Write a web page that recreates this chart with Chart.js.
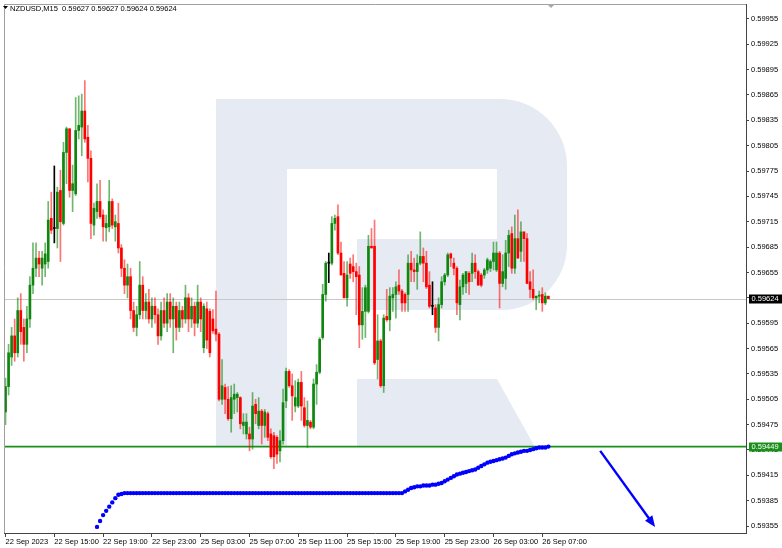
<!DOCTYPE html>
<html>
<head>
<meta charset="utf-8">
<script src="https://cdn.jsdelivr.net/npm/chart.js@4.4.0/dist/chart.umd.min.js"></script>
<style>
  html, body { margin: 0; padding: 0; background: #fff; }
  canvas { display: block; }
</style>
</head>
<body>
<canvas id="chart" width="782" height="548"></canvas>
<script>
const symbolTitle = "NZDUSD,M15  0.59627 0.59627 0.59624 0.59624";

// bar index of each time label (M15 bars, 0 = 22 Sep 11:00)
const xTickIdx = [0, 16, 32, 48, 64, 80, 96, 112, 128, 144, 160, 176];
const xTickLabels = ["22 Sep 2023", "22 Sep 15:00", "22 Sep 19:00", "22 Sep 23:00", "25 Sep 03:00", "25 Sep 07:00",
  "25 Sep 11:00", "25 Sep 15:00", "25 Sep 19:00", "25 Sep 23:00", "26 Sep 03:00", "26 Sep 07:00"];
const yTickValues = [0.59955, 0.59925, 0.59895, 0.59865, 0.59835, 0.59805, 0.59775, 0.59745, 0.59715, 0.59685,
  0.59655, 0.59625, 0.59595, 0.59565, 0.59535, 0.59505, 0.59475, 0.59445, 0.59415, 0.59385, 0.59355];

const opens = [
  0.59490, 0.59520, 0.59555, 0.59580, 0.59560, 0.59610, 0.59590, 0.59570, 0.59600, 0.59640,
  0.59660, 0.59672, 0.59660, 0.59665, 0.59668, 0.59719, 0.59707, 0.59707, 0.59752, 0.59713,
  0.59797, 0.59825, 0.59752, 0.59748, 0.59823, 0.59827, 0.59846, 0.59815, 0.59790, 0.59711,
  0.59727, 0.59739, 0.59723, 0.59708, 0.59709, 0.59739, 0.59709, 0.59713, 0.59684, 0.59660,
  0.59640, 0.59650, 0.59610, 0.59590, 0.59605, 0.59640, 0.59610, 0.59620, 0.59600, 0.59615,
  0.59605, 0.59580, 0.59610, 0.59595, 0.59620, 0.59600, 0.59615, 0.59590, 0.59610, 0.59600,
  0.59625, 0.59600, 0.59615, 0.59595, 0.59620, 0.59566, 0.59612, 0.59609, 0.59600, 0.59588,
  0.59582, 0.59505, 0.59519, 0.59505, 0.59482, 0.59505, 0.59507, 0.59507, 0.59474, 0.59464,
  0.59464, 0.59458, 0.59499, 0.59474, 0.59491, 0.59474, 0.59488, 0.59464, 0.59462, 0.59460,
  0.59444, 0.59456, 0.59503, 0.59538, 0.59521, 0.59497, 0.59497, 0.59525, 0.59495, 0.59474,
  0.59478, 0.59472, 0.59523, 0.59537, 0.59578, 0.59629, 0.59666, 0.59666, 0.59713, 0.59721,
  0.59678, 0.59654, 0.59625, 0.59665, 0.59662, 0.59656, 0.59652, 0.59593, 0.59609, 0.59609,
  0.59686, 0.59686, 0.59552, 0.59574, 0.59521, 0.59603, 0.59599, 0.59625, 0.59629, 0.59640,
  0.59633, 0.59629, 0.59629, 0.59666, 0.59658, 0.59656, 0.59666, 0.59674, 0.59666, 0.59640,
  0.59615, 0.59613, 0.59590, 0.59617, 0.59644, 0.59652, 0.59677, 0.59666, 0.59660, 0.59617,
  0.59638, 0.59642, 0.59654, 0.59654, 0.59666, 0.59656, 0.59652, 0.59652, 0.59658, 0.59660,
  0.59668, 0.59658, 0.59678, 0.59642, 0.59648, 0.59678, 0.59701, 0.59660, 0.59695, 0.59680,
  0.59703, 0.59695, 0.59644, 0.59635, 0.59625, 0.59627, 0.59629, 0.59619, 0.59627
];
const highs = [
  0.59530, 0.59570, 0.59590, 0.59600, 0.59625, 0.59630, 0.59600, 0.59615, 0.59650, 0.59690,
  0.59690, 0.59680, 0.59680, 0.59690, 0.59739, 0.59750, 0.59781, 0.59756, 0.59776, 0.59809,
  0.59827, 0.59825, 0.59782, 0.59862, 0.59864, 0.59866, 0.59882, 0.59829, 0.59799, 0.59737,
  0.59760, 0.59764, 0.59729, 0.59723, 0.59764, 0.59742, 0.59723, 0.59737, 0.59688, 0.59670,
  0.59665, 0.59660, 0.59620, 0.59615, 0.59668, 0.59650, 0.59630, 0.59635, 0.59625, 0.59625,
  0.59612, 0.59620, 0.59625, 0.59630, 0.59630, 0.59625, 0.59620, 0.59620, 0.59615, 0.59640,
  0.59630, 0.59625, 0.59620, 0.59640, 0.59625, 0.59618, 0.59620, 0.59612, 0.59611, 0.59633,
  0.59584, 0.59552, 0.59523, 0.59520, 0.59521, 0.59523, 0.59513, 0.59508, 0.59488, 0.59488,
  0.59472, 0.59513, 0.59505, 0.59507, 0.59493, 0.59493, 0.59490, 0.59470, 0.59466, 0.59462,
  0.59468, 0.59517, 0.59542, 0.59540, 0.59535, 0.59527, 0.59529, 0.59538, 0.59507, 0.59503,
  0.59480, 0.59529, 0.59546, 0.59578, 0.59641, 0.59668, 0.59678, 0.59721, 0.59723, 0.59735,
  0.59691, 0.59668, 0.59668, 0.59672, 0.59676, 0.59666, 0.59662, 0.59637, 0.59640, 0.59699,
  0.59707, 0.59717, 0.59605, 0.59576, 0.59605, 0.59635, 0.59637, 0.59637, 0.59644, 0.59658,
  0.59635, 0.59631, 0.59676, 0.59680, 0.59672, 0.59676, 0.59703, 0.59684, 0.59680, 0.59656,
  0.59644, 0.59617, 0.59625, 0.59650, 0.59654, 0.59678, 0.59678, 0.59672, 0.59662, 0.59646,
  0.59654, 0.59656, 0.59656, 0.59678, 0.59676, 0.59658, 0.59654, 0.59660, 0.59672, 0.59670,
  0.59691, 0.59691, 0.59680, 0.59676, 0.59693, 0.59705, 0.59709, 0.59723, 0.59729, 0.59715,
  0.59703, 0.59701, 0.59656, 0.59658, 0.59627, 0.59633, 0.59637, 0.59631, 0.59627
];
const lows = [
  0.59475, 0.59510, 0.59545, 0.59550, 0.59555, 0.59570, 0.59550, 0.59560, 0.59590, 0.59630,
  0.59650, 0.59650, 0.59640, 0.59650, 0.59660, 0.59701, 0.59690, 0.59684, 0.59668, 0.59711,
  0.59760, 0.59744, 0.59727, 0.59746, 0.59813, 0.59793, 0.59809, 0.59762, 0.59695, 0.59699,
  0.59719, 0.59719, 0.59692, 0.59692, 0.59703, 0.59707, 0.59692, 0.59678, 0.59650, 0.59630,
  0.59625, 0.59600, 0.59585, 0.59580, 0.59600, 0.59600, 0.59600, 0.59595, 0.59590, 0.59595,
  0.59570, 0.59575, 0.59590, 0.59585, 0.59590, 0.59560, 0.59575, 0.59585, 0.59590, 0.59595,
  0.59585, 0.59590, 0.59580, 0.59590, 0.59585, 0.59560, 0.59565, 0.59555, 0.59583, 0.59574,
  0.59503, 0.59499, 0.59488, 0.59480, 0.59466, 0.59488, 0.59490, 0.59470, 0.59464, 0.59458,
  0.59444, 0.59446, 0.59476, 0.59470, 0.59452, 0.59460, 0.59456, 0.59435, 0.59423, 0.59429,
  0.59431, 0.59452, 0.59495, 0.59519, 0.59480, 0.59490, 0.59495, 0.59480, 0.59472, 0.59448,
  0.59470, 0.59470, 0.59499, 0.59535, 0.59576, 0.59621, 0.59643, 0.59664, 0.59705, 0.59676,
  0.59652, 0.59625, 0.59615, 0.59648, 0.59644, 0.59605, 0.59566, 0.59576, 0.59578, 0.59607,
  0.59684, 0.59546, 0.59529, 0.59519, 0.59513, 0.59597, 0.59586, 0.59609, 0.59601, 0.59629,
  0.59609, 0.59609, 0.59609, 0.59644, 0.59644, 0.59635, 0.59664, 0.59644, 0.59636, 0.59613,
  0.59605, 0.59584, 0.59574, 0.59613, 0.59640, 0.59650, 0.59662, 0.59652, 0.59605, 0.59599,
  0.59629, 0.59631, 0.59629, 0.59644, 0.59648, 0.59640, 0.59638, 0.59648, 0.59654, 0.59656,
  0.59658, 0.59656, 0.59613, 0.59638, 0.59635, 0.59662, 0.59654, 0.59654, 0.59672, 0.59668,
  0.59668, 0.59642, 0.59625, 0.59623, 0.59611, 0.59619, 0.59609, 0.59617, 0.59624
];
const closes = [
  0.59520, 0.59560, 0.59580, 0.59560, 0.59610, 0.59585, 0.59570, 0.59600, 0.59640, 0.59660,
  0.59672, 0.59665, 0.59672, 0.59677, 0.59717, 0.59705, 0.59707, 0.59750, 0.59715, 0.59797,
  0.59825, 0.59752, 0.59760, 0.59823, 0.59829, 0.59846, 0.59813, 0.59790, 0.59713, 0.59731,
  0.59739, 0.59721, 0.59709, 0.59713, 0.59739, 0.59711, 0.59715, 0.59684, 0.59660, 0.59640,
  0.59650, 0.59610, 0.59590, 0.59605, 0.59640, 0.59610, 0.59620, 0.59600, 0.59615, 0.59605,
  0.59580, 0.59610, 0.59595, 0.59620, 0.59600, 0.59615, 0.59590, 0.59610, 0.59600, 0.59625,
  0.59600, 0.59615, 0.59595, 0.59620, 0.59600, 0.59615, 0.59575, 0.59560, 0.59586, 0.59582,
  0.59505, 0.59521, 0.59505, 0.59482, 0.59507, 0.59511, 0.59511, 0.59476, 0.59478, 0.59478,
  0.59458, 0.59497, 0.59488, 0.59491, 0.59474, 0.59490, 0.59460, 0.59437, 0.59437, 0.59440,
  0.59456, 0.59501, 0.59538, 0.59521, 0.59509, 0.59507, 0.59525, 0.59497, 0.59474, 0.59480,
  0.59472, 0.59523, 0.59537, 0.59576, 0.59629, 0.59666, 0.59666, 0.59713, 0.59719, 0.59678,
  0.59652, 0.59625, 0.59652, 0.59654, 0.59656, 0.59650, 0.59593, 0.59609, 0.59637, 0.59686,
  0.59684, 0.59548, 0.59574, 0.59521, 0.59601, 0.59599, 0.59627, 0.59629, 0.59638, 0.59633,
  0.59619, 0.59619, 0.59666, 0.59658, 0.59656, 0.59666, 0.59674, 0.59666, 0.59638, 0.59615,
  0.59615, 0.59590, 0.59617, 0.59644, 0.59652, 0.59676, 0.59672, 0.59660, 0.59619, 0.59638,
  0.59652, 0.59656, 0.59644, 0.59666, 0.59656, 0.59640, 0.59640, 0.59658, 0.59670, 0.59668,
  0.59678, 0.59678, 0.59642, 0.59656, 0.59678, 0.59699, 0.59660, 0.59695, 0.59672, 0.59703,
  0.59695, 0.59642, 0.59635, 0.59625, 0.59627, 0.59628, 0.59619, 0.59627, 0.59624
];

// blue dotted indicator, first value at bar dotStart
const dotStart = 30;
const dotValues = [
  0.59354, 0.59361, 0.59368, 0.59373, 0.59378, 0.59383, 0.59388, 0.59392, 0.59393,
  0.59394, 0.59394, 0.59394, 0.59394, 0.59394, 0.59394, 0.59394, 0.59394, 0.59394, 0.59394,
  0.59394, 0.59394, 0.59394, 0.59394, 0.59394, 0.59394, 0.59394, 0.59394, 0.59394, 0.59394,
  0.59394, 0.59394, 0.59394, 0.59394, 0.59394, 0.59394, 0.59394, 0.59394, 0.59394, 0.59394,
  0.59394, 0.59394, 0.59394, 0.59394, 0.59394, 0.59394, 0.59394, 0.59394, 0.59394, 0.59394,
  0.59394, 0.59394, 0.59394, 0.59394, 0.59394, 0.59394, 0.59394, 0.59394, 0.59394, 0.59394,
  0.59394, 0.59394, 0.59394, 0.59394, 0.59394, 0.59394, 0.59394, 0.59394, 0.59394, 0.59394,
  0.59394, 0.59394, 0.59394, 0.59394, 0.59394, 0.59394, 0.59394, 0.59394, 0.59394, 0.59394,
  0.59394, 0.59394, 0.59394, 0.59394, 0.59394, 0.59394, 0.59394, 0.59394, 0.59394, 0.59394,
  0.59394, 0.59394, 0.59394, 0.59394, 0.59394, 0.59394, 0.59394, 0.59394, 0.59394, 0.59394,
  0.59394, 0.59394,
  0.59396, 0.59398, 0.59400, 0.59401, 0.59402, 0.59402, 0.59403, 0.59403, 0.59403, 0.59404,
  0.59404, 0.59405, 0.59406, 0.59408, 0.59410, 0.59412, 0.59414, 0.59416, 0.59417, 0.59418,
  0.59419, 0.59420, 0.59421, 0.59422, 0.59424, 0.59426, 0.59428, 0.59430, 0.59431, 0.59432,
  0.59433, 0.59434, 0.59435, 0.59436, 0.59438, 0.59440, 0.59441, 0.59442, 0.59443, 0.59444,
  0.59444, 0.59445, 0.59446, 0.59447, 0.59448, 0.59448, 0.59448, 0.59449
];

const bidPrice = 0.59624;
const levelPrice = 0.59449;
// forecast arrow: [bar index, price]
const arrowFrom = [195, 0.59444];
const arrowTo = [213, 0.59354];

const FONT = { family: "'Liberation Sans', Arial, sans-serif", size: 7.5 };
const BULL = "#0f870f", BEAR = "#ff0000", DOJI = "#000000";
const BULL_WICK = "rgba(15,135,15,0.6)", BEAR_WICK = "rgba(255,0,0,0.55)";

const idx = opens.map((_, i) => i);
const colorOf = i => closes[i] > opens[i] ? BULL : (closes[i] < opens[i] ? BEAR : DOJI);
const wickColorOf = i => closes[i] > opens[i] ? BULL_WICK : (closes[i] < opens[i] ? BEAR_WICK : DOJI);

const mtPlugin = {
  id: "mt",
  beforeDatasetsDraw(chart) {
    const ctx = chart.ctx;
    const area = chart.chartArea;
    const y = chart.scales.y;
    ctx.save();
    ctx.beginPath();
    ctx.rect(area.left, area.top, area.right - area.left, area.bottom - area.top);
    ctx.clip();

    // watermark logo
    ctx.fillStyle = "#e6ebf3";
    ctx.fillRect(216, 99, 71, 348);
    ctx.fillRect(287, 99, 213, 70);
    ctx.beginPath();
    ctx.moveTo(497, 99);
    ctx.lineTo(500, 99);
    ctx.arcTo(567, 99, 567, 166, 67);
    ctx.lineTo(567, 245);
    ctx.arcTo(567, 310, 502, 310, 65);
    ctx.lineTo(357, 310);
    ctx.lineTo(357, 239);
    ctx.lineTo(497, 239);
    ctx.closePath();
    ctx.fill();
    ctx.beginPath();
    ctx.moveTo(357, 379);
    ctx.lineTo(497, 379);
    ctx.lineTo(535, 447);
    ctx.lineTo(357, 447);
    ctx.closePath();
    ctx.fill();

    // bid line
    const by = Math.round(y.getPixelForValue(bidPrice)) + 0.5;
    ctx.strokeStyle = "#c8c8c8";
    ctx.lineWidth = 1;
    ctx.beginPath();
    ctx.moveTo(area.left, by);
    ctx.lineTo(area.right, by);
    ctx.stroke();

    // horizontal level
    const ly = y.getPixelForValue(levelPrice);
    ctx.strokeStyle = "#1a8f1a";
    ctx.lineWidth = 1.6;
    ctx.beginPath();
    ctx.moveTo(area.left, ly);
    ctx.lineTo(area.right, ly);
    ctx.stroke();
    ctx.restore();
  },
  afterDraw(chart) {
    const ctx = chart.ctx;
    const area = chart.chartArea;
    const x = chart.scales.x, y = chart.scales.y;
    ctx.save();

    // frame: left and top
    ctx.strokeStyle = "#a0a0a0";
    ctx.lineWidth = 1;
    ctx.beginPath();
    ctx.moveTo(area.left + 0.5, area.bottom);
    ctx.lineTo(area.left + 0.5, area.top + 0.5);
    ctx.lineTo(area.right, area.top + 0.5);
    ctx.stroke();

    // forecast arrow
    const x1 = x.getPixelForValue(arrowFrom[0]), y1 = y.getPixelForValue(arrowFrom[1]);
    const x2 = x.getPixelForValue(arrowTo[0]), y2 = y.getPixelForValue(arrowTo[1]);
    const ang = Math.atan2(y2 - y1, x2 - x1);
    const head = 11, half = 4.5;
    ctx.strokeStyle = "#0000ff";
    ctx.fillStyle = "#0000ff";
    ctx.lineWidth = 2.4;
    ctx.beginPath();
    ctx.moveTo(x1, y1);
    ctx.lineTo(x2 - Math.cos(ang) * head * 0.8, y2 - Math.sin(ang) * head * 0.8);
    ctx.stroke();
    ctx.beginPath();
    ctx.moveTo(x2, y2);
    ctx.lineTo(x2 - Math.cos(ang) * head + Math.sin(ang) * half, y2 - Math.sin(ang) * head - Math.cos(ang) * half);
    ctx.lineTo(x2 - Math.cos(ang) * head - Math.sin(ang) * half, y2 - Math.sin(ang) * head + Math.cos(ang) * half);
    ctx.closePath();
    ctx.fill();

    // price boxes on the axis
    ctx.font = FONT.size + "px " + FONT.family;
    ctx.textBaseline = "middle";
    ctx.textAlign = "left";
    const boxes = [[bidPrice, "#000000"], [levelPrice, "#1a8f1a"]];
    boxes.forEach(([p, bg]) => {
      const py = y.getPixelForValue(p);
      ctx.fillStyle = bg;
      ctx.fillRect(area.right + 3, Math.round(py) - 4.5, 33, 9);
      ctx.fillStyle = "#ffffff";
      ctx.fillText(p.toFixed(5), area.right + 5.5, py + 0.5);
    });

    // symbol caption
    ctx.fillStyle = "#000";
    ctx.beginPath();
    ctx.moveTo(3, 6);
    ctx.lineTo(8, 6);
    ctx.lineTo(5.5, 9);
    ctx.closePath();
    ctx.fill();
    ctx.textBaseline = "alphabetic";
    ctx.fillText(symbolTitle, 10, 10.5);

    // chart shift marker
    ctx.fillStyle = "#a8a8a8";
    ctx.beginPath();
    ctx.moveTo(547, area.top);
    ctx.lineTo(555, area.top);
    ctx.lineTo(551, area.top + 4);
    ctx.closePath();
    ctx.fill();
    ctx.restore();
  }
};

new Chart(document.getElementById("chart"), {
  type: "line",
  data: {
    datasets: [
      {
        type: "line",
        data: dotValues.map((v, k) => ({ x: dotStart + k, y: v })),
        showLine: false,
        pointRadius: 2.2,
        pointBorderWidth: 0,
        pointBackgroundColor: "#0000ff",
        order: 0
      },
      {
        type: "bar",
        data: idx.map(i => ({ x: i, y: [opens[i], closes[i]] })),
        backgroundColor: idx.map(colorOf),
        barThickness: 2,
        minBarLength: 1,
        grouped: false,
        borderWidth: 0,
        order: 1
      },
      {
        type: "bar",
        data: idx.map(i => ({ x: i, y: [lows[i], highs[i]] })),
        backgroundColor: idx.map(wickColorOf),
        barThickness: 1,
        grouped: false,
        borderWidth: 0,
        order: 2
      }
    ]
  },
  options: {
    responsive: false,
    animation: false,
    devicePixelRatio: 1,
    events: [],
    layout: { padding: { left: 1, top: 1, right: 0, bottom: 0 } },
    plugins: { legend: { display: false }, tooltip: { enabled: false } },
    scales: {
      x: {
        type: "linear",
        min: -0.5,
        max: 242.8,
        offset: false,
        afterBuildTicks: s => { s.ticks = xTickIdx.map(v => ({ value: v })); },
        afterFit: s => { s.height = 15; s.paddingLeft = 0; s.paddingRight = 0; },
        ticks: {
          autoSkip: false,
          maxRotation: 0,
          align: "start",
          padding: 0,
          color: "#000",
          font: FONT,
          callback: (v, i) => xTickLabels[i]
        },
        grid: { offset: false, drawOnChartArea: false, drawTicks: true, tickLength: 4, color: "#444" },
        border: { color: "#444" }
      },
      y: {
        position: "right",
        min: 0.593468,
        max: 0.599726,
        afterBuildTicks: s => { s.ticks = yTickValues.map(v => ({ value: v })); },
        afterFit: s => { s.width = 36; s.paddingTop = 0; s.paddingBottom = 0; },
        ticks: {
          padding: 2,
          color: "#000",
          font: FONT,
          callback: v => v.toFixed(5)
        },
        grid: { drawOnChartArea: false, drawTicks: true, tickLength: 3, color: "#444" },
        border: { color: "#444" }
      }
    }
  },
  plugins: [mtPlugin]
});
</script>
</body>
</html>
